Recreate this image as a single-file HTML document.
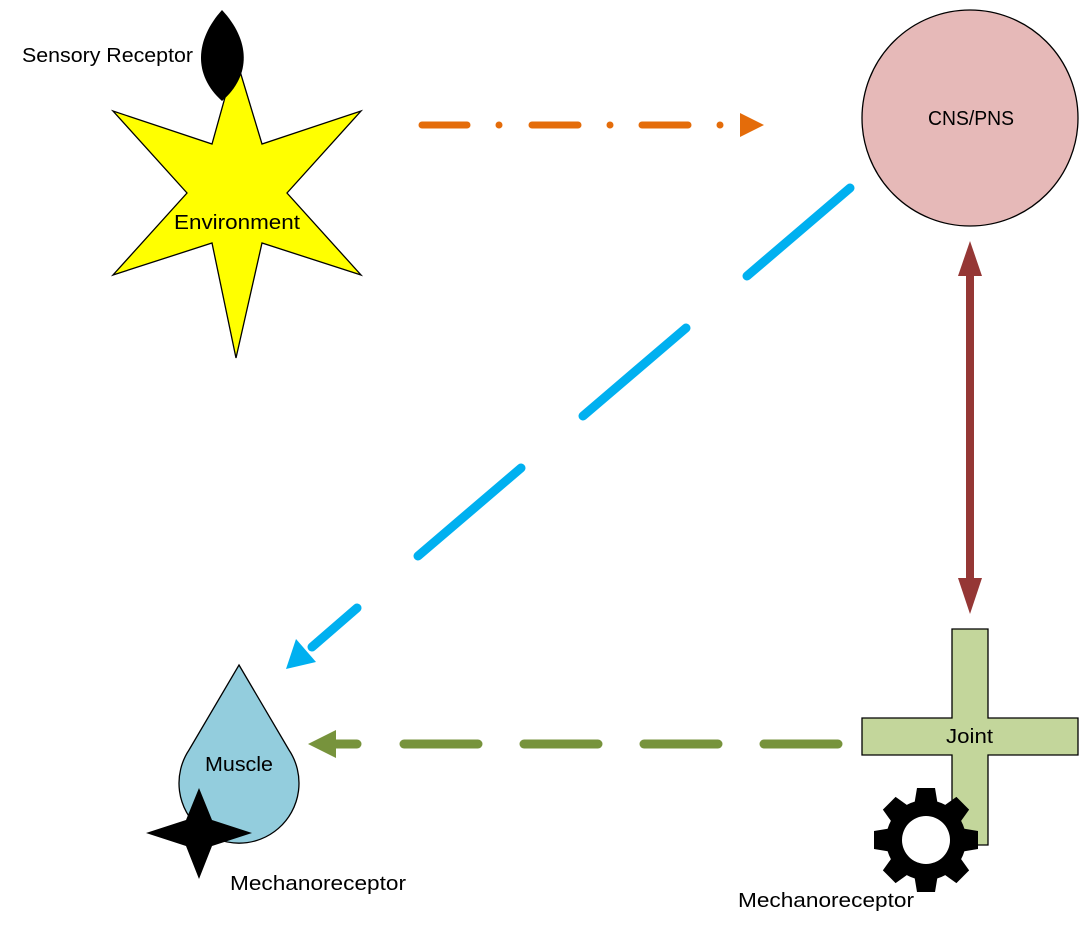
<!DOCTYPE html>
<html><head><style>
html,body{margin:0;padding:0;background:#fff;}
svg{display:block;}
text{font-family:"Liberation Sans",sans-serif;font-size:20px;fill:#000;}
</style></head><body>
<svg width="1089" height="935" viewBox="0 0 1089 935" xmlns="http://www.w3.org/2000/svg">
<polygon points="236,58 262,144 361,111 287,193 361,275 262,243 236,358 212,243 113,275 187,193 113,111 212,144" fill="#ffff00" stroke="#000" stroke-width="1.3"/>
<path d="M222,10 C250,40 252,75 222,101 C193,75 195,40 222,10 Z" fill="#000"/>
<text x="22" y="62" textLength="171" lengthAdjust="spacingAndGlyphs">Sensory Receptor</text>
<text x="174" y="229" textLength="126" lengthAdjust="spacingAndGlyphs">Environment</text>

<circle cx="970" cy="118" r="108" fill="#e6b9b8" stroke="#000" stroke-width="1.3"/>
<text x="928" y="125" textLength="86" lengthAdjust="spacingAndGlyphs">CNS/PNS</text>

<g stroke="#e46c0a" stroke-width="7" stroke-linecap="round">
<line x1="422" y1="125" x2="467" y2="125"/>
<line x1="532" y1="125" x2="578" y2="125"/>
<line x1="642" y1="125" x2="688" y2="125"/>
</g>
<g fill="#e46c0a">
<circle cx="499" cy="125" r="3.5"/><circle cx="610" cy="125" r="3.5"/><circle cx="720" cy="125" r="3.5"/>
<polygon points="740,113 764,125 740,137"/>
</g>

<line x1="970" y1="270" x2="970" y2="585" stroke="#953735" stroke-width="8"/>
<polygon points="970,241 982,276 958,276" fill="#953735"/>
<polygon points="970,614 982,578 958,578" fill="#953735"/>

<g stroke="#00b0f0" stroke-width="9" stroke-linecap="round">
<line x1="850" y1="188" x2="747" y2="276"/>
<line x1="686" y1="328" x2="583" y2="416"/>
<line x1="521" y1="468" x2="418" y2="556"/>
<line x1="357" y1="608" x2="312" y2="647"/>
</g>
<polygon points="286,669 296,639 316,662" fill="#00b0f0"/>

<g stroke="#77933c" stroke-width="9" stroke-linecap="round">
<line x1="838" y1="744" x2="764" y2="744"/>
<line x1="718" y1="744" x2="644" y2="744"/>
<line x1="598" y1="744" x2="524" y2="744"/>
<line x1="478" y1="744" x2="404" y2="744"/>
<line x1="357" y1="744" x2="335" y2="744"/>
</g>
<polygon points="308,744 336,730 336,758" fill="#77933c"/>

<path d="M239,665 L289,750 A60,60 0 1 1 189,750 Z" fill="#93cddd" stroke="#000" stroke-width="1.3"/>
<text x="205" y="771" textLength="68" lengthAdjust="spacingAndGlyphs">Muscle</text>
<polygon points="199,788 212,820 252,833 212,846 199,879 186,846 146,833 186,820" fill="#000"/>
<text x="230" y="890" textLength="176" lengthAdjust="spacingAndGlyphs">Mechanoreceptor</text>

<polygon points="952,629 988,629 988,718 1078,718 1078,755 988,755 988,845 952,845 952,755 862,755 862,718 952,718" fill="#c3d69b" stroke="#000" stroke-width="1.3"/>
<text x="946" y="743" textLength="47" lengthAdjust="spacingAndGlyphs">Joint</text>
<g transform="translate(926,840)" fill="#000">
<circle r="40"/>
<g>
<path d="M-9,-52 L9,-52 L12,-34 L-12,-34 Z"/>
<path d="M-9,-52 L9,-52 L12,-34 L-12,-34 Z" transform="rotate(45)"/>
<path d="M-9,-52 L9,-52 L12,-34 L-12,-34 Z" transform="rotate(90)"/>
<path d="M-9,-52 L9,-52 L12,-34 L-12,-34 Z" transform="rotate(135)"/>
<path d="M-9,-52 L9,-52 L12,-34 L-12,-34 Z" transform="rotate(180)"/>
<path d="M-9,-52 L9,-52 L12,-34 L-12,-34 Z" transform="rotate(225)"/>
<path d="M-9,-52 L9,-52 L12,-34 L-12,-34 Z" transform="rotate(270)"/>
<path d="M-9,-52 L9,-52 L12,-34 L-12,-34 Z" transform="rotate(315)"/>
</g>
<circle r="24" fill="#fff"/>
</g>
<text x="738" y="907" textLength="176" lengthAdjust="spacingAndGlyphs">Mechanoreceptor</text>
</svg>
</body></html>
